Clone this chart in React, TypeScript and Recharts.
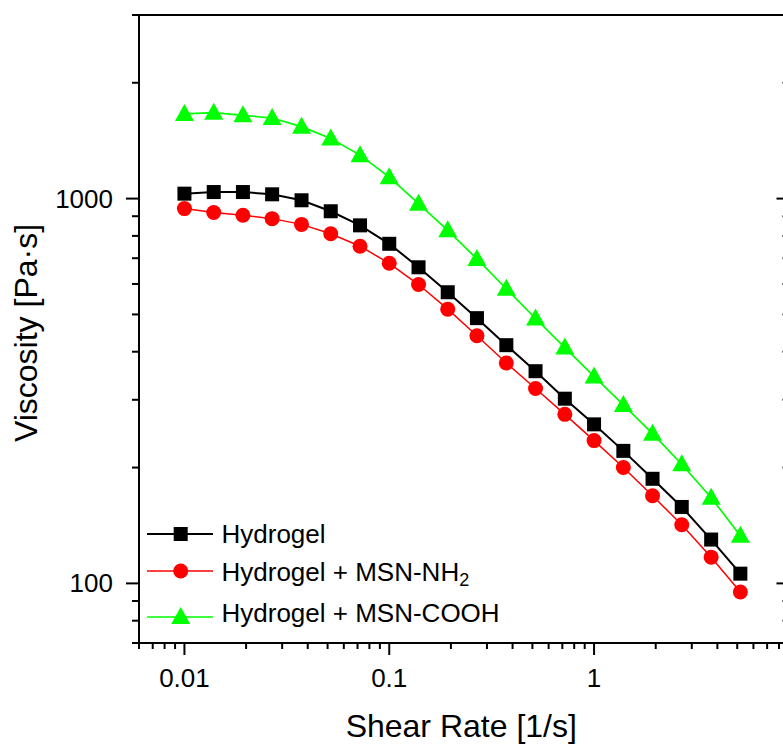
import React from 'react';
import { ComposedChart, Line, XAxis, YAxis, Legend } from 'recharts';

// shear rate sweep, 7 points per decade
const SHEAR_RATE = [0.01, 0.0139, 0.0193, 0.0268, 0.0373, 0.0518, 0.072, 0.1, 0.139, 0.193, 0.268, 0.373, 0.518, 0.72, 1, 1.39, 1.93, 2.68, 3.73, 5.18];
const HYDROGEL = [1030, 1040, 1040, 1026, 990, 927, 852, 763, 663, 571, 489, 416, 356, 302, 259, 221, 187, 158, 130, 106];
const HYDROGEL_NH2 = [942, 920, 905, 887, 857, 810, 752, 679, 598, 516, 440, 374, 321, 275, 235, 200, 169, 142, 117, 95];
const HYDROGEL_COOH = [1660, 1672, 1646, 1620, 1538, 1433, 1297, 1137, 970, 827, 697, 583, 488, 410, 345, 291, 245, 204, 167, 133];

const X_TICKS = [0.006, 0.007, 0.008, 0.009, 0.01, 0.02, 0.03, 0.04, 0.05, 0.06, 0.07, 0.08, 0.09, 0.1, 0.2, 0.3, 0.4, 0.5, 0.6, 0.7, 0.8, 0.9, 1, 2, 3, 4, 5, 6, 7, 8, 9];
const X_MAJOR = [0.01, 0.1, 1];
const Y_TICKS = [70, 80, 90, 100, 200, 300, 400, 500, 600, 700, 800, 900, 1000, 2000, 3000];
const Y_MAJOR = [100, 1000];

const FONT = '"Liberation Sans", Arial, sans-serif';

const data = SHEAR_RATE.map((x, i) => ({
  x,
  hydrogel: HYDROGEL[i],
  nh2: HYDROGEL_NH2[i],
  cooh: HYDROGEL_COOH[i],
}));

const BottomTick = (props: any) => {
  const { x, y, payload } = props;
  const major = X_MAJOR.includes(payload.value);
  return (
    <g>
      <line x1={x} y1={y} x2={x} y2={y + (major ? 12 : 6)} stroke="#000" strokeWidth={2} />
      {major && (
        <text x={x} y={y + 44} textAnchor="middle" fontSize={26} fill="#000" fontFamily={FONT}>
          {String(payload.value)}
        </text>
      )}
    </g>
  );
};

const TopTick = (props: any) => {
  const { x, y, payload } = props;
  const major = X_MAJOR.includes(payload.value);
  return <line x1={x} y1={y} x2={x} y2={y + (major ? 13 : 7)} stroke="#000" strokeWidth={2} />;
};

const LeftTick = (props: any) => {
  const { x, y, payload } = props;
  const major = Y_MAJOR.includes(payload.value);
  return (
    <g>
      <line x1={x} y1={y} x2={x - (major ? 13 : 7)} y2={y} stroke="#000" strokeWidth={2} />
      {major && (
        <text x={x - 26} y={y + 9} textAnchor="end" fontSize={26} fill="#000" fontFamily={FONT}>
          {String(payload.value)}
        </text>
      )}
    </g>
  );
};

const RightTick = (props: any) => {
  const { x, y, payload } = props;
  const major = Y_MAJOR.includes(payload.value);
  return <line x1={x} y1={y} x2={x - (major ? 13 : 7)} y2={y} stroke="#000" strokeWidth={2} />;
};

const XTitle = (props: any) => {
  const vb = props.viewBox || { x: 139, y: 643, width: 650 };
  return (
    <text x={vb.x + vb.width / 2 - 3} y={737} textAnchor="middle" fontSize={32} fill="#000" fontFamily={FONT}>
      Shear Rate [1/s]
    </text>
  );
};

const YTitle = (props: any) => {
  const vb = props.viewBox || { y: 15, height: 628 };
  const cy = vb.y + vb.height / 2 + 4;
  return (
    <text x={37} y={cy} transform={`rotate(-90 37 ${cy})`} textAnchor="middle" fontSize={32} fill="#000" fontFamily={FONT}>
      Viscosity [Pa·s]
    </text>
  );
};

const square = (cx: number, cy: number, key?: string) => (
  <rect key={key} x={cx - 7} y={cy - 7} width={14} height={14} fill="#000" />
);
const circle = (cx: number, cy: number, key?: string) => (
  <circle key={key} cx={cx} cy={cy} r={7.5} fill="#ff0000" />
);
const triangle = (cx: number, cy: number, key?: string) => (
  <polygon key={key} points={`${cx},${cy - 10} ${cx - 9.5},${cy + 7} ${cx + 9.5},${cy + 7}`} fill="#00ff00" />
);

const SERIES = [
  { key: 'hydrogel', name: 'Hydrogel', sub: '', color: '#000000', width: 2, marker: square, lineY: 24, textY: 33 },
  { key: 'nh2', name: 'Hydrogel + MSN-NH', sub: '2', color: '#ff0000', width: 1.5, marker: circle, lineY: 61, textY: 71 },
  { key: 'cooh', name: 'Hydrogel + MSN-COOH', sub: '', color: '#00ff00', width: 1.7, marker: triangle, lineY: 107, textY: 112 },
];

const LegendBox = () => (
  <svg width={380} height={120} style={{ display: 'block' }}>
    {SERIES.map((s) => (
      <g key={s.key}>
        <line x1={7} y1={s.lineY} x2={73} y2={s.lineY} stroke={s.color} strokeWidth={s.width} />
        {s.marker(40.7, s.lineY)}
        <text x={81.5} y={s.textY} fontSize={26} fill="#000" fontFamily={FONT}>
          {s.name}
          {s.sub && (
            <tspan fontSize={18} dy={5}>
              {s.sub}
            </tspan>
          )}
        </text>
      </g>
    ))}
  </svg>
);

export default function App() {
  return (
    <div style={{ position: 'fixed', left: 0, top: 0, width: 783, height: 744, overflow: 'hidden', background: '#fff' }}>
      <ComposedChart
        width={800}
        height={744}
        data={data}
        margin={{ top: 14, right: 9.5, left: 138, bottom: 100 }}
        style={{ fontFamily: FONT }}
      >
        <XAxis
          xAxisId="bottom"
          dataKey="x"
          type="number"
          scale="log"
          domain={[0.006, 9]}
          allowDataOverflow
          ticks={X_TICKS}
          interval={0}
          height={1}
          tickSize={0}
          tickMargin={0}
          tickLine={false}
          axisLine={{ stroke: '#000', strokeWidth: 2 }}
          tick={<BottomTick />}
          label={<XTitle />}
        />
        <XAxis
          xAxisId="top"
          orientation="top"
          type="number"
          scale="log"
          domain={[0.006, 9]}
          allowDataOverflow
          ticks={X_TICKS}
          interval={0}
          height={1}
          tickSize={0}
          tickMargin={0}
          tickLine={false}
          axisLine={{ stroke: '#000', strokeWidth: 2 }}
          tick={<TopTick />}
        />
        <YAxis
          yAxisId="left"
          type="number"
          scale="log"
          domain={[70, 3000]}
          allowDataOverflow
          ticks={Y_TICKS}
          interval={0}
          width={1}
          tickSize={0}
          tickMargin={0}
          tickLine={false}
          axisLine={{ stroke: '#000', strokeWidth: 2 }}
          tick={<LeftTick />}
          label={<YTitle />}
        />
        <YAxis
          yAxisId="right"
          orientation="right"
          type="number"
          scale="log"
          domain={[70, 3000]}
          allowDataOverflow
          ticks={Y_TICKS}
          interval={0}
          width={1}
          tickSize={0}
          tickMargin={0}
          tickLine={false}
          axisLine={{ stroke: '#000', strokeWidth: 2 }}
          tick={<RightTick />}
        />
        {SERIES.map((s) => (
          <Line
            key={s.key}
            xAxisId="bottom"
            yAxisId="left"
            type="linear"
            dataKey={s.key}
            name={s.name}
            stroke={s.color}
            strokeWidth={s.width}
            dot={(p: any) => s.marker(p.cx, p.cy, `${s.key}-${p.index}`)}
            activeDot={false}
            isAnimationActive={false}
          />
        ))}
        <Legend
          layout="horizontal"
          align="center"
          verticalAlign="middle"
          content={<LegendBox />}
          wrapperStyle={{ left: 140, top: 510, width: 380 }}
        />
      </ComposedChart>
    </div>
  );
}
